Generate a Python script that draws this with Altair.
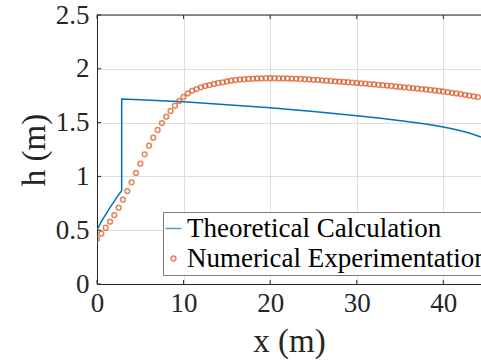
import altair as alt
import pandas as pd

# ---------------- data ----------------
series_names = ["Theoretical Calculation", "Numerical Experimentation"]

theory_x = [0, 0.5, 1.0, 1.5, 2.0, 2.5, 2.85, 2.85, 5, 10, 15, 20, 25, 30, 33, 36,
            38, 40, 41, 42, 43, 44.35]
theory_h = [0.50, 0.58, 0.645, 0.71, 0.77, 0.83, 0.867, 1.72, 1.712, 1.694, 1.667, 1.639,
            1.604, 1.564, 1.537, 1.508, 1.486, 1.459, 1.443, 1.425, 1.404, 1.365]

num_x = [i * 0.5 for i in range(89)]
num_h = [0.418, 0.468, 0.523, 0.579, 0.641, 0.709, 0.784, 0.864, 0.945, 1.032,
         1.118, 1.205, 1.285, 1.360, 1.431, 1.496, 1.555, 1.608, 1.657, 1.701,
         1.738, 1.772, 1.797, 1.812, 1.828, 1.840, 1.849, 1.859, 1.868, 1.874,
         1.883, 1.890, 1.896, 1.900, 1.903, 1.906, 1.908, 1.910, 1.911, 1.912,
         1.912, 1.912, 1.911, 1.911, 1.910, 1.908, 1.907, 1.905, 1.903, 1.901,
         1.898, 1.896, 1.893, 1.890, 1.887, 1.884, 1.881, 1.878, 1.875, 1.872,
         1.869, 1.865, 1.862, 1.858, 1.855, 1.851, 1.848, 1.844, 1.840, 1.836,
         1.832, 1.828, 1.824, 1.820, 1.816, 1.812, 1.808, 1.803, 1.799, 1.794,
         1.789, 1.783, 1.777, 1.771, 1.765, 1.758, 1.751, 1.744, 1.736]

x_ticks = [0, 10, 20, 30, 40]
y_ticks = [0, 0.5, 1, 1.5, 2, 2.5]
x_domain = [0, 44.35]
y_domain = [0, 2.5]

# ---------------- style ----------------
FONT = "Liberation Serif"
BLUE = "#0072BD"
ORANGE = "#D95319"
AXIS_COL = "#262626"
W, H = 384, 269

theory = pd.DataFrame({"x": theory_x, "h": theory_h, "series": series_names[0],
                       "idx": list(range(len(theory_x)))})
numer = pd.DataFrame({"x": num_x, "h": num_h, "series": series_names[1]})

xs = alt.Scale(domain=x_domain, nice=False, zero=False)
ys = alt.Scale(domain=y_domain, nice=False, zero=False)

color_scale = alt.Scale(domain=series_names, range=[BLUE, ORANGE])
circle_path = "M -0.3 0 A 0.3 0.3 0 1 1 0.3 0 A 0.3 0.3 0 1 1 -0.3 0 Z"
shape_scale = alt.Scale(domain=series_names, range=["M -1 0 L 1 0", circle_path])

legend = alt.Legend(
    title=None, orient="none", legendX=66, legendY=197,
    labelFont=FONT, labelFontSize=27, labelColor="black",
    symbolSize=256, symbolStrokeWidth=1.5, labelOffset=0, symbolOffset=-6,
    rowPadding=2, padding=3, strokeColor="#7a7a7a", fillColor="white",
    cornerRadius=0, labelLimit=0,
)

x_axis = alt.Axis(values=x_ticks, grid=True, gridColor="#dedede", gridWidth=1,
                  domainColor=AXIS_COL, domainWidth=1, tickSize=0, format="~g",
                  labelFont=FONT, labelFontSize=27, labelColor=AXIS_COL, labelPadding=6,
                  title="x (m)", titleFont=FONT, titleFontSize=33, titleFontWeight="normal",
                  titleColor=AXIS_COL, titlePadding=9, labelFlush=False)
y_axis = alt.Axis(values=y_ticks, grid=True, gridColor="#dedede", gridWidth=1,
                  domainColor=AXIS_COL, domainWidth=1, tickSize=0, format="~g",
                  labelFont=FONT, labelFontSize=27, labelColor=AXIS_COL, labelPadding=8,
                  title="h (m)", titleFont=FONT, titleFontSize=33, titleFontWeight="normal",
                  titleColor=AXIS_COL, titlePadding=4, labelFlush=False)

line = alt.Chart(theory).mark_line(strokeWidth=1.5, clip=True).encode(
    x=alt.X("x:Q", scale=xs, axis=x_axis),
    y=alt.Y("h:Q", scale=ys, axis=y_axis),
    color=alt.Color("series:N", scale=color_scale, legend=legend),
    order="idx:Q",
)

points = alt.Chart(numer).mark_point(filled=False, strokeWidth=1.5, size=256, clip=True).encode(
    x=alt.X("x:Q", scale=xs),
    y=alt.Y("h:Q", scale=ys),
    color=alt.Color("series:N", scale=color_scale, legend=legend),
    shape=alt.Shape("series:N", scale=shape_scale, legend=legend),
)

# box top edge and inward ticks
frame = pd.DataFrame({"x": [x_domain[0]], "x2": [x_domain[1]], "y": [y_domain[1]]})
top = alt.Chart(frame).mark_rule(color=AXIS_COL, strokeWidth=1).encode(
    x="x:Q", x2="x2:Q", y="y:Q")

tx = pd.DataFrame({"x": x_ticks})
tlen_y = (y_domain[1] - y_domain[0]) * 4 / H
tlen_x = (x_domain[1] - x_domain[0]) * 4 / W
bt = alt.Chart(tx).mark_rule(color=AXIS_COL, strokeWidth=1).encode(
    x="x:Q", y=alt.datum(y_domain[0]), y2=alt.datum(y_domain[0] + tlen_y))
tt = alt.Chart(tx).mark_rule(color=AXIS_COL, strokeWidth=1).encode(
    x="x:Q", y=alt.datum(y_domain[1]), y2=alt.datum(y_domain[1] - tlen_y))
ty = pd.DataFrame({"y": y_ticks})
lt = alt.Chart(ty).mark_rule(color=AXIS_COL, strokeWidth=1).encode(
    y="y:Q", x=alt.datum(x_domain[0]), x2=alt.datum(x_domain[0] + tlen_x))

chart = alt.layer(line, points, top, bt, tt, lt).properties(
    width=W, height=H,
    autosize=alt.AutoSizeParams(type="none"),
    padding={"left": 97, "top": 15, "right": 0, "bottom": 78},
).configure_view(stroke=None).configure(background="white")

chart.save("out.html", embed_options={"renderer": "svg", "actions": False})
